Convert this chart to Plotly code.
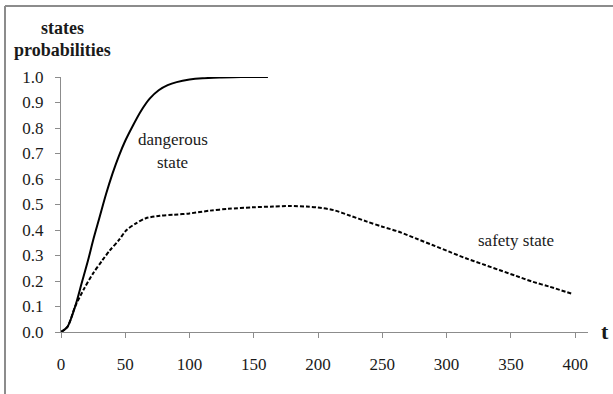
import plotly.graph_objects as go

# dangerous state (solid)
t_danger = [0, 5, 11, 16, 21, 25, 30, 35, 40, 45, 50, 56, 62, 69, 76, 83, 90, 100, 110, 125, 140, 161]
p_danger = [0, 0.02, 0.10, 0.19, 0.28, 0.36, 0.45, 0.54, 0.62, 0.69, 0.75, 0.81, 0.865, 0.915, 0.948, 0.968, 0.98, 0.99, 0.995, 0.998, 1.0, 1.0]

# safety state (dashed)
t_safe = [0, 5, 11, 18, 25, 32, 38, 45, 51, 58, 66, 77, 88, 100, 116, 130, 149, 165, 178, 191, 200, 212,
          225, 238, 250, 263, 276, 289, 302, 315, 328, 341, 354, 367, 380, 398]
p_safe = [0, 0.02, 0.10, 0.17, 0.23, 0.28, 0.32, 0.36, 0.40, 0.425, 0.446, 0.456, 0.46, 0.465, 0.476, 0.483,
          0.489, 0.492, 0.494, 0.492, 0.488, 0.478, 0.456, 0.433, 0.413, 0.393, 0.367, 0.341, 0.315, 0.289,
          0.266, 0.243, 0.22, 0.197, 0.178, 0.149]

x_ticks = [0, 50, 100, 150, 200, 250, 300, 350, 400]
y_ticks = [0.0, 0.1, 0.2, 0.3, 0.4, 0.5, 0.6, 0.7, 0.8, 0.9, 1.0]
y_tick_labels = [f"{v:.1f}" for v in y_ticks]

FONT = "Liberation Serif"
TXT = "#1a1a1a"
AX = "#8c8c8c"

fig = go.Figure()
fig.add_trace(go.Scatter(x=t_danger, y=p_danger, mode="lines",
                         line=dict(color="black", width=2, shape="spline", smoothing=0.8),
                         showlegend=False, hoverinfo="skip"))
fig.add_trace(go.Scatter(x=t_safe, y=p_safe, mode="lines",
                         line=dict(color="black", width=2, dash="4px,2px", shape="spline", smoothing=0.8),
                         showlegend=False, hoverinfo="skip"))

W, H = 613, 394
L, R, T, B = 61, 25, 77, 62
pw, ph = W - L - R, H - T - B

def px2paper(px, py):
    return (px - L) / pw, (H - B - py) / ph

fig.update_layout(
    width=W, height=H,
    margin=dict(l=L, r=R, t=T, b=B),
    paper_bgcolor="white", plot_bgcolor="white",
    font=dict(family=FONT, size=16, color=TXT),
    xaxis=dict(range=[0, 410], tickvals=x_ticks, showgrid=False, zeroline=False,
               showline=True, linecolor=AX, linewidth=1,
               ticks="outside", ticklen=5, tickcolor=AX, ticklabelstandoff=12,
               tickfont=dict(family=FONT, size=17, color=TXT)),
    yaxis=dict(range=[0, 1.0], tickvals=y_ticks, ticktext=y_tick_labels, showgrid=False, zeroline=False,
               showline=True, linecolor=AX, linewidth=1,
               ticks="outside", ticklen=5, tickcolor=AX, ticklabelstandoff=8,
               tickfont=dict(family=FONT, size=17, color=TXT)),
)

ann = []
ann.append(dict(x=87, y=0.753, xref="x", yref="y", text="dangerous", showarrow=False, xanchor="center",
                font=dict(family=FONT, size=17, color=TXT)))
ann.append(dict(x=87, y=0.663, xref="x", yref="y", text="state", showarrow=False, xanchor="center",
                font=dict(family=FONT, size=17, color=TXT)))
ann.append(dict(x=354, y=0.357, xref="x", yref="y", text="safety state", showarrow=False, xanchor="center",
                font=dict(family=FONT, size=17, color=TXT)))
ax, ay = px2paper(62, 28)
ann.append(dict(x=ax, y=ay, xref="paper", yref="paper", text="<b>states</b>", showarrow=False,
                xanchor="center", yanchor="middle", font=dict(family=FONT, size=18, color=TXT)))
ax, ay = px2paper(62, 50)
ann.append(dict(x=ax, y=ay, xref="paper", yref="paper", text="<b>probabilities</b>", showarrow=False,
                xanchor="center", yanchor="middle", font=dict(family=FONT, size=18, color=TXT)))
ax, ay = px2paper(605, 331)
ann.append(dict(x=ax, y=ay, xref="paper", yref="paper", text="<b>t</b>", showarrow=False,
                xanchor="center", yanchor="middle", font=dict(family=FONT, size=22, color=TXT)))
fig.update_layout(annotations=ann)

# outer frame (top and left gray lines)
x0, y0 = px2paper(5, 6)
x1, _ = px2paper(613, 6)
_, yb = px2paper(5, 394)
fig.add_shape(type="line", xref="paper", yref="paper", x0=x0, y0=y0, x1=x1, y1=y0,
              line=dict(color=AX, width=2), layer="above")
fig.add_shape(type="line", xref="paper", yref="paper", x0=x0, y0=y0, x1=x0, y1=yb,
              line=dict(color=AX, width=2), layer="above")

fig.write_html("out.html", config={"displayModeBar": False},
               post_script="document.body.style.margin='0';")
